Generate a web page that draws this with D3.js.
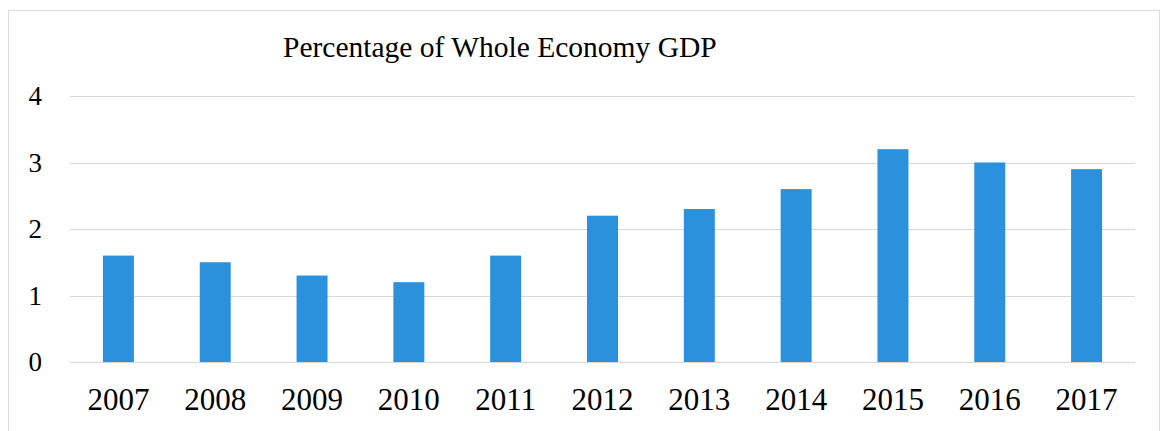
<!DOCTYPE html>
<html>
<head>
<meta charset="utf-8">
<script src="https://cdn.jsdelivr.net/npm/d3@7"></script>
<style>
  html, body { margin: 0; padding: 0; background: #fff; }
  svg { display: block; }
</style>
</head>
<body>
<svg id="chart"></svg>
<script>
// data
const years = ["2007", "2008", "2009", "2010", "2011", "2012", "2013", "2014", "2015", "2016", "2017"]
const values = [1.6, 1.5, 1.3, 1.2, 1.6, 2.2, 2.3, 2.6, 3.2, 3.0, 2.9]
const yTicks = [0, 1, 2, 3, 4]
const title = "Percentage of Whole Economy GDP"

const width = 1163
const height = 431
const margin = {top: 96, right: 28, bottom: 69, left: 70}

const svg = d3.select("#chart")
    .attr("width", width)
    .attr("height", height)

const font = "'Liberation Serif', 'Times New Roman', serif"

// frame round the chart area
svg.append("rect")
    .attr("x", 8.5)
    .attr("y", 10.5)
    .attr("width", 1151)
    .attr("height", 440)
    .attr("fill", "none")
    .attr("stroke", "#dcdcdc")
    .attr("stroke-width", 1)

const x = d3.scaleBand()
    .domain(years)
    .range([margin.left, width - margin.right])
    .paddingInner(0.68)
    .paddingOuter(0.34)

const y = d3.scaleLinear()
    .domain([0, 4])
    .range([height - margin.bottom, margin.top])

// gridlines
svg.append("g")
    .selectAll("line")
    .data(yTicks)
    .join("line")
    .attr("x1", margin.left)
    .attr("x2", width - margin.right)
    .attr("y1", d => Math.round(y(d)) + 0.5)
    .attr("y2", d => Math.round(y(d)) + 0.5)
    .attr("stroke", "#d9d9d9")
    .attr("stroke-width", 1)

// y tick labels
svg.append("g")
    .selectAll("text")
    .data(yTicks)
    .join("text")
    .attr("x", 42)
    .attr("y", d => y(d) + 9)
    .attr("text-anchor", "end")
    .attr("font-family", font)
    .attr("font-size", "27px")
    .attr("fill", "#000")
    .text(d => d)

// bars
svg.append("g")
    .selectAll("rect")
    .data(values)
    .join("rect")
    .attr("x", (d, i) => x(years[i]))
    .attr("y", d => y(d))
    .attr("width", x.bandwidth())
    .attr("height", d => y(0) - y(d))
    .attr("fill", "#2b91dc")

// x labels
svg.append("g")
    .selectAll("text")
    .data(years)
    .join("text")
    .attr("x", d => x(d) + x.bandwidth() / 2)
    .attr("y", 410)
    .attr("text-anchor", "middle")
    .attr("font-family", font)
    .attr("font-size", "31px")
    .attr("fill", "#000")
    .text(d => d)

// title
svg.append("text")
    .attr("x", 283)
    .attr("y", 57)
    .attr("font-family", font)
    .attr("font-size", "29.5px")
    .attr("fill", "#000")
    .text(title)
</script>
</body>
</html>
